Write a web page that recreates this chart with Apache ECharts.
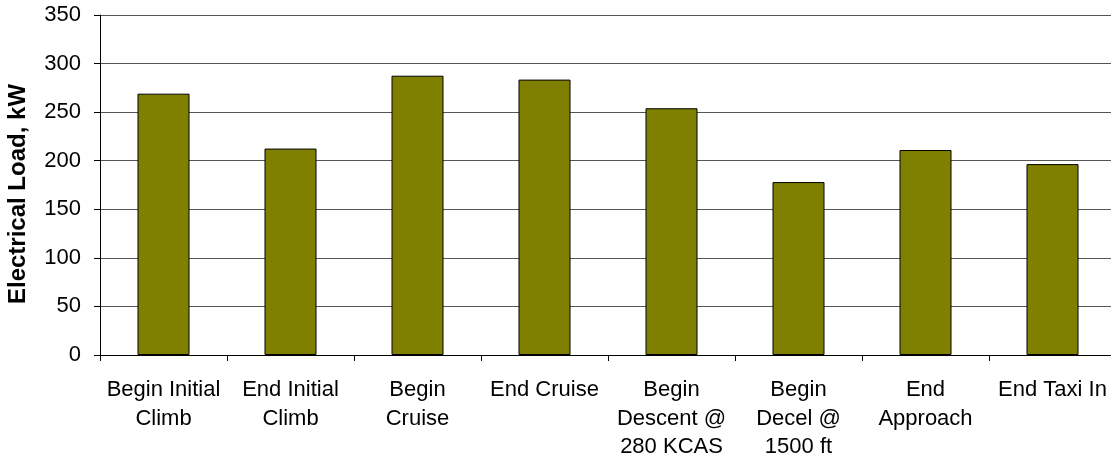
<!DOCTYPE html>
<html>
<head>
<meta charset="utf-8">
<script src="https://cdn.jsdelivr.net/npm/echarts@6/dist/echarts.min.js"></script>
<style>
  html, body { margin: 0; padding: 0; background: #fff; }
  #chart { width: 1111px; height: 456px; }
</style>
</head>
<body>
<div id="chart"></div>
<script>
  // phases of the flight
  const phases = ['Begin Initial\nClimb', 'End Initial\nClimb', 'Begin\nCruise', 'End Cruise',
    'Begin\nDescent @\n280 KCAS', 'Begin\nDecel @\n1500 ft', 'End\nApproach', 'End Taxi In']
  // electrical load, kW
  const loadKW = [269, 212.5, 287.5, 283.5, 254, 178, 211, 196.5]
  const yTicks = { min: 0, max: 350, step: 50 }

  const myChart = echarts.init(document.getElementById('chart'))
  myChart.setOption({
    animation: false,
    textStyle: { fontFamily: 'Liberation Sans, Arial, sans-serif' },
    grid: { left: 100, right: -5, top: 15, bottom: 101, containLabel: false, outerBoundsMode: 'none' },
    xAxis: {
      type: 'category',
      data: phases,
      axisLine: { lineStyle: { color: '#000', width: 1 } },
      axisTick: { show: true, length: 6, lineStyle: { color: '#000' } },
      axisLabel: { color: '#000', fontSize: 22, lineHeight: 28.5, margin: 21, interval: 0 }
    },
    yAxis: {
      type: 'value',
      min: yTicks.min,
      max: yTicks.max,
      interval: yTicks.step,
      name: 'Electrical Load, kW',
      nameLocation: 'middle',
      nameGap: 70,
      // right padding nudges the rotated title a little lower
      nameTextStyle: { color: '#000', fontSize: 24, fontWeight: 'bold', padding: [0, 18, 0, 0] },
      axisLine: { show: true, lineStyle: { color: '#000' } },
      axisTick: { show: true, length: 6, lineStyle: { color: '#000' } },
      axisLabel: { color: '#000', fontSize: 22, margin: 19 },
      splitLine: { lineStyle: { color: '#555', width: 1 } }
    },
    series: [{
      type: 'bar',
      data: loadKW,
      barWidth: 52,
      itemStyle: { color: '#808000', borderColor: '#000', borderWidth: 1 }
    }]
  })
</script>
</body>
</html>
